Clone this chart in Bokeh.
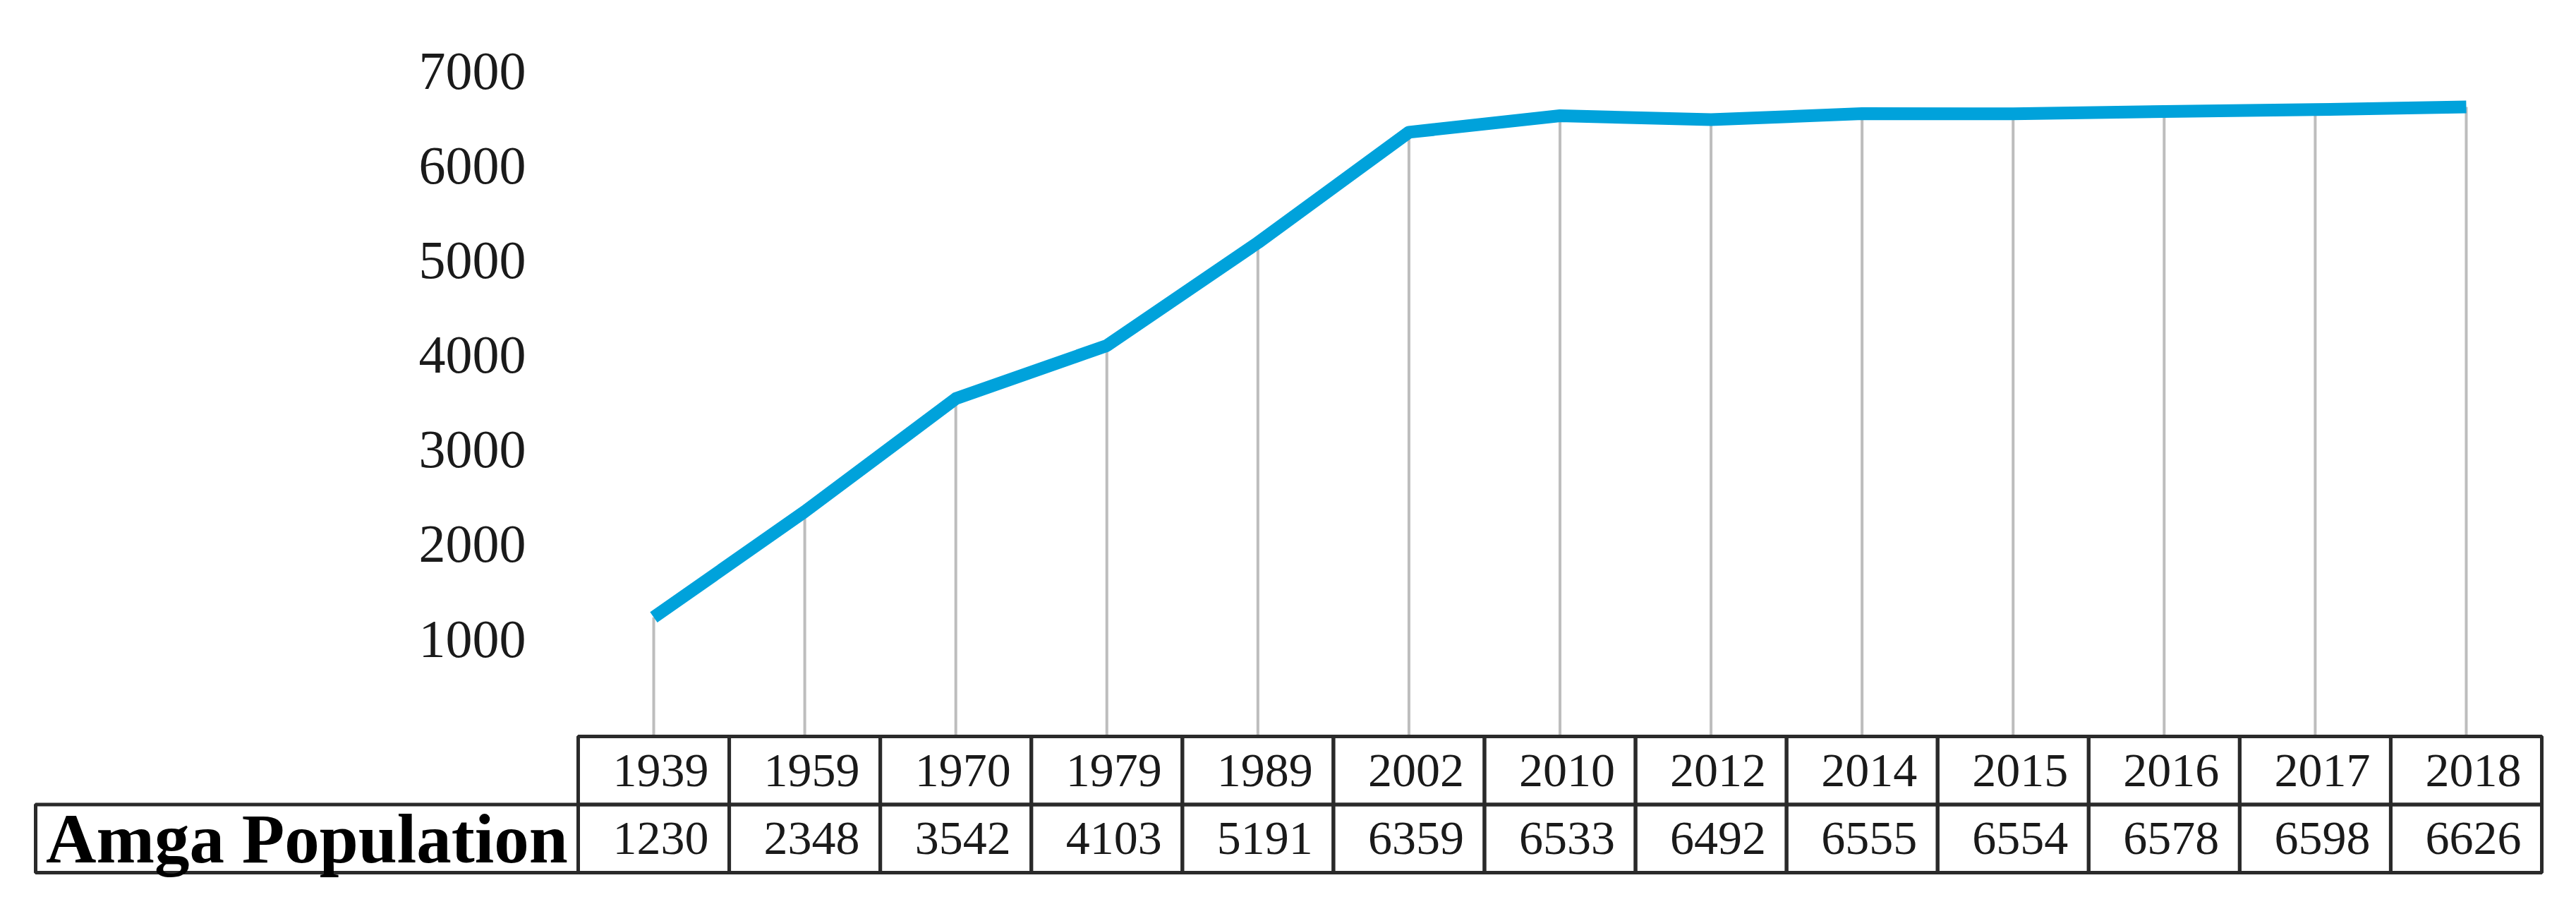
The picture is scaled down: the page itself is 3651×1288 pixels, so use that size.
from bokeh.plotting import figure
from bokeh.models import Range1d, FixedTicker, LinearAxis
from bokeh.core.properties import value
from bokeh.embed import file_html
from bokeh.resources import INLINE

# ---- data ----
years = ["1939", "1959", "1970", "1979", "1989", "2002", "2010",
         "2012", "2014", "2015", "2016", "2017", "2018"]
population = [1230, 2348, 3542, 4103, 5191, 6359, 6533,
              6492, 6555, 6554, 6578, 6598, 6626]
y_ticks = [1000, 2000, 3000, 4000, 5000, 6000, 7000]
row_label = "Amga Population"

FONT = "Liberation Serif"
n = len(years)
xs = [i + 0.5 for i in range(n)]          # category centres
label_w = 3.592                            # width of the row-label cell (in columns)
axis_floor = -30                           # bottom of the chart area (population units)

p = figure(width=3643, height=1256,
           x_range=Range1d(-3.620, 13.028),
           y_range=Range1d(-1582, 7455),
           output_backend="svg", toolbar_location=None,
           x_axis_location=None, y_axis_location=None,
           min_border_left=44, min_border_right=35,
           min_border_top=40, min_border_bottom=5,
           outline_line_color=None, background_fill_color="white")
p.extra_y_ranges = {"table": Range1d(-0.155, 12.394)}
p.grid.visible = False

ax = LinearAxis(fixed_location=0, ticker=FixedTicker(ticks=y_ticks))
ax.axis_line_color = None
ax.major_tick_line_color = None
ax.minor_tick_line_color = None
ax.major_tick_out = 0
ax.major_tick_in = 0
ax.major_label_standoff = 74
ax.major_label_text_font = FONT
ax.major_label_text_font_size = "76px"
ax.major_label_text_color = "#1a1a1a"
p.add_layout(ax, "left")

# drop lines
p.segment(x0=xs, y0=population, x1=xs, y1=[axis_floor] * n,
          line_color="#BDBDBD", line_width=4)
# main line
p.line(x=xs, y=population, line_color="#00A2DB", line_width=18,
       line_join="round", line_cap="butt")

# ---- data table ----
border = "#2a2a2a"
p.rect(x=xs, y=[1.5] * n, width=1, height=1, fill_color=None,
       line_color=border, line_width=5, y_range_name="table")
p.rect(x=xs, y=[0.5] * n, width=1, height=1, fill_color=None,
       line_color=border, line_width=5, y_range_name="table")
p.rect(x=[-label_w / 2], y=[0.5], width=label_w, height=1, fill_color=None,
       line_color=border, line_width=5, y_range_name="table")

p.text(x=xs, y=[1.5] * n, text=years, text_align="center",
       text_baseline="middle", x_offset=10,
       text_font=value(FONT), text_font_size=value("68px"),
       text_color="#1a1a1a", y_range_name="table")
p.text(x=xs, y=[0.5] * n, text=[str(v) for v in population],
       text_align="center", text_baseline="middle", x_offset=10,
       text_font=value(FONT), text_font_size=value("68px"),
       text_color="#1a1a1a", y_range_name="table")
p.text(x=[-label_w / 2], y=[0.5], text=[row_label], text_align="center",
       text_baseline="middle", text_font=value(FONT),
       text_font_size=value("99px"), text_font_style=value("bold"),
       text_color="black", y_range_name="table")

open("out.html", "w").write(file_html(p, INLINE))
